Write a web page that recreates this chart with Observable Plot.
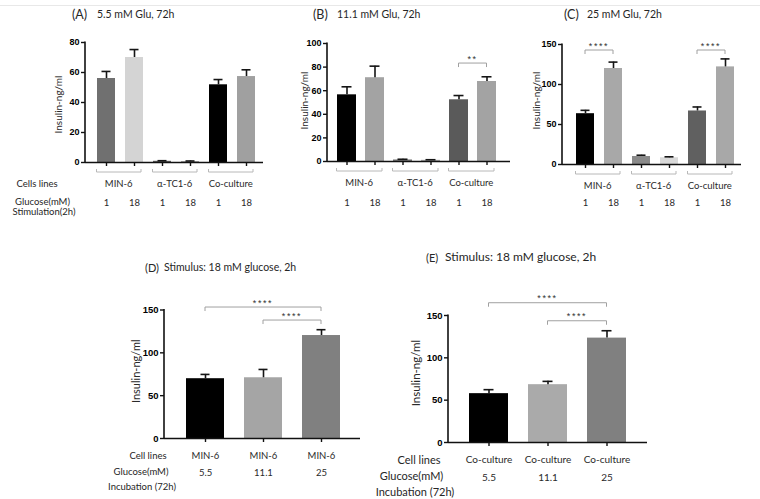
<!DOCTYPE html>
<html><head><meta charset="utf-8">
<script src="https://cdn.jsdelivr.net/npm/d3@7"></script>
<script src="https://cdn.jsdelivr.net/npm/@observablehq/plot@0.6"></script>
<style>
html,body{margin:0;padding:0;background:#fff;}
#root{position:relative;width:760px;height:499px;overflow:hidden;font-family:Lato,"Open Sans",sans-serif;color:#262626;}
#root svg{position:absolute;left:0;top:0;}
#root svg g[aria-label="y-axis tick label"], #root svg g[aria-label="y-axis tick label"] text{font-weight:700 !important;font-family:"Liberation Sans",Arial,sans-serif !important;}
.lbl{position:absolute;white-space:nowrap;line-height:1;transform:translate(-50%,-50%);}
.ttl{position:absolute;white-space:nowrap;line-height:1;transform:translate(0,-50%);}
.sep{position:absolute;left:0;top:5px;width:760px;height:1px;background:#e8e8e8;}
</style></head><body><div id="root"><div class="sep"></div></div>
<script>
// ---------------- data ----------------
const groupsABC = ["MIN-6", "α-TC1-6", "Co-culture"];
const stimGlucose = ["1", "18"];
const keysABC = groupsABC.flatMap(g => stimGlucose.map(s => g + "|" + s));

const valuesA = [56, 70, 0.8, 0.6, 51.8, 57.3];
const errorsA = [4.7, 5.3, 0.4, 0.4, 3.5, 4.5];
const valuesB = [56.5, 71, 1.3, 1.0, 52.3, 67.8];
const errorsB = [6.8, 9.8, 0.6, 0.5, 3.6, 4.0];
const valuesC = [63.5, 120, 10, 8.4, 66.9, 122];
const errorsC = [4.2, 8, 1.6, 1.2, 5, 10];

const incubGlucose = ["5.5", "11.1", "25"];
const cellLinesD = ["MIN-6", "MIN-6", "MIN-6"];
const valuesD = [69.8, 70.9, 120.2];
const errorsD = [5, 9.7, 6.8];
const cellLinesE = ["Co-culture", "Co-culture", "Co-culture"];
const valuesE = [57.7, 68.3, 123.3];
const errorsE = [4.7, 3.9, 8.7];

const ticksA = [0, 20, 40, 60, 80];
const ticksB = [0, 20, 40, 60, 80, 100];
const ticks150 = [0, 50, 100, 150];

const sigLabelB = "**";
const sigLabel = "****";

// ---------------- helpers ----------------
const W = 760, H = 499;
const root = document.getElementById("root");

const yAxisLine = (index, scales, values, dim) =>
  d3.create("svg:line")
    .attr("x1", dim.marginLeft).attr("x2", dim.marginLeft)
    .attr("y1", dim.marginTop - 0.5).attr("y2", dim.height - dim.marginBottom + 0.75)
    .attr("stroke", "#111").attr("stroke-width", 1.6).node();

function groupAxis(groups, keys, {offset, labelDy, fontSize}) {
  return (index, scales, values, dim) => {
    const x = scales.x, bw = x.bandwidth();
    const y0 = dim.height - dim.marginBottom;
    const g = d3.create("svg:g");
    groups.forEach((name, gi) => {
      const k1 = keys[gi * 2], k2 = keys[gi * 2 + 1];
      const x1 = x(k1) - 0.5, x2 = x(k2) + bw - 2;
      const yy = y0 + offset;
      g.append("path").attr("d", `M${x1},${yy - 3}V${yy}H${x2}V${yy - 3}`)
        .attr("fill", "none").attr("stroke", "#b8b8b8").attr("stroke-width", 1);
      g.append("text").attr("x", (x1 + x2) / 2).attr("y", y0 + labelDy).attr("dy", "0.35em")
        .attr("text-anchor", "middle").attr("font-family", "Lato").attr("font-size", fontSize)
        .attr("fill", "#2a2a2a").text(name);
    });
    return g.node();
  };
}

function sigMark(list, fontSize = 9) {
  return (index, scales) => {
    const x = scales.x, y = scales.y, bw = x.bandwidth();
    const g = d3.create("svg:g");
    for (const s of list) {
      const x1 = x(s.from) + bw / 2, x2 = x(s.to) + bw / 2, yy = y(s.y);
      g.append("path").attr("d", `M${x1},${yy + 4}V${yy}H${x2}V${yy + 4}`)
        .attr("fill", "none").attr("stroke", "#a0a0a0").attr("stroke-width", 1);
      g.append("text").attr("x", (x1 + x2) / 2).attr("y", yy - 1.5)
        .attr("text-anchor", "middle").attr("font-family", "Liberation Sans, Arial")
        .attr("font-size", fontSize).attr("letter-spacing", "1.6px").attr("fill", "#333").text(s.label);
    }
    return g.node();
  };
}

function panel(cfg) {
  const data = cfg.keys.map((key, i) => ({
    key, v: cfg.values[i], e: cfg.errors[i], fill: cfg.fills[i],
    r1: cfg.row1 ? cfg.row1[i] : "", r2: cfg.row2[i]
  }));
  const [left, right, top, bottom] = cfg.box;
  const textOpts = {fontFamily: "Lato", fill: "#2a2a2a", lineAnchor: "middle", textAnchor: "middle"};
  const marks = [
    Plot.barY(data, {x: "key", y: "v", fill: "fill"}),
    Plot.ruleX(data, {x: "key", y1: "v", y2: d => d.v + d.e, stroke: "#151515", strokeWidth: 1.6}),
    Plot.tickY(data, {x: "key", y: d => d.v + d.e, stroke: "#151515", strokeWidth: 1.6, insetLeft: cfg.cap, insetRight: cfg.cap}),
    Plot.ruleY([0], {stroke: "#111", strokeWidth: 1.6}),
    yAxisLine,
    Plot.axisY({ticks: cfg.ticks, tickSize: 4, tickPadding: 2, fontSize: cfg.tickFont, fontWeight: "bold",
      fontFamily: "Liberation Sans, Arial", label: null, strokeWidth: 1.4, stroke: "#111", fill: "#000"}),
    Plot.axisX({tickSize: 4, tickFormat: () => "", label: null, strokeWidth: 1.4, stroke: "#111"}),
    Plot.text(["Insulin-ng/ml"], {...textOpts, text: d => d, frameAnchor: "left", rotate: -90,
      dx: cfg.yTitle.dx, dy: cfg.yTitle.dy, fontSize: cfg.yTitle.size}),
    Plot.text(data, {...textOpts, x: "key", text: "r2", frameAnchor: "bottom", dy: cfg.r2dy, fontSize: cfg.rowFont})
  ];
  if (cfg.row1) marks.push(Plot.text(data, {...textOpts, x: "key", text: "r1", frameAnchor: "bottom", dy: cfg.r1dy, fontSize: cfg.rowFont}));
  if (cfg.groups) marks.push(groupAxis(cfg.groups, cfg.keys, {offset: 10, labelDy: 22, fontSize: cfg.rowFont}));
  if (cfg.sig) marks.push(sigMark(cfg.sig));
  const svg = Plot.plot({
    width: W, height: H,
    marginLeft: left, marginRight: W - right, marginTop: top, marginBottom: H - bottom,
    style: {background: "transparent", overflow: "visible", fontFamily: "Liberation Sans, Arial", fontSize: "8px"},
    x: {type: "band", domain: cfg.keys, paddingInner: cfg.band[0], paddingOuter: cfg.band[1], align: cfg.band[2]},
    y: {domain: [0, cfg.yMax]},
    color: {type: "identity"},
    marks
  });
  root.appendChild(svg);
}

// ---------------- panels ----------------
panel({
  keys: keysABC, values: valuesA, errors: errorsA,
  fills: ["#707070", "#d4d4d4", "#5e5e5e", "#9a9a9a", "#000000", "#a0a0a0"],
  ticks: ticksA, yMax: 80, box: [85, 263, 42, 162], band: [0.366, 0.3, 0.59], cap: 4.5,
  tickFont: 9, rowFont: 9.5, r2dy: 40, row2: keysABC.map(k => k.split("|")[1]), groups: groupsABC,
  yTitle: {dx: -27, dy: 2, size: 10}
});
panel({
  keys: keysABC, values: valuesB, errors: errorsB,
  fills: ["#000000", "#a3a3a3", "#777777", "#aaaaaa", "#5a5a5a", "#a3a3a3"],
  ticks: ticksB, yMax: 100, box: [327, 510, 43, 161], band: [0.31, 0.38, 0.43], cap: 4.5,
  tickFont: 9, rowFont: 9.5, r2dy: 41, row2: keysABC.map(k => k.split("|")[1]), groups: groupsABC,
  sig: [{from: "Co-culture|1", to: "Co-culture|18", y: 83, label: sigLabelB}],
  yTitle: {dx: -23, dy: -2, size: 10}
});
panel({
  keys: keysABC, values: valuesC, errors: errorsC,
  fills: ["#000000", "#a8a8a8", "#8a8a8a", "#d9d9d9", "#606060", "#a8a8a8"],
  ticks: ticks150, yMax: 150, box: [562, 741, 44, 164], band: [0.346, 0.336, 0.67], cap: 4.5,
  tickFont: 9, rowFont: 9.5, r2dy: 38, row2: keysABC.map(k => k.split("|")[1]), groups: groupsABC,
  sig: [{from: "MIN-6|1", to: "MIN-6|18", y: 142.5, label: sigLabel},
        {from: "Co-culture|1", to: "Co-culture|18", y: 142.5, label: sigLabel}],
  yTitle: {dx: -26, dy: -4, size: 10}
});
panel({
  keys: incubGlucose, values: valuesD, errors: errorsD,
  fills: ["#000000", "#a5a5a5", "#808080"],
  ticks: ticks150, yMax: 150, box: [164, 360, 309.5, 438], band: [0.345, 0.362, 0.52], cap: 14.5,
  tickFont: 9.5, rowFont: 9.5, r1dy: 17, r2dy: 34, row1: cellLinesD, row2: incubGlucose,
  sig: [{from: "5.5", to: "25", y: 152.9, label: sigLabel}, {from: "11.1", to: "25", y: 137.7, label: sigLabel}],
  yTitle: {dx: -28, dy: -3, size: 11}
});
panel({
  keys: incubGlucose, values: valuesE, errors: errorsE,
  fills: ["#000000", "#aaaaaa", "#808080"],
  ticks: ticks150, yMax: 150, box: [448, 647, 315, 442], band: [0.34, 0.335, 0.5], cap: 14.5,
  tickFont: 9.5, rowFont: 10, r1dy: 17, r2dy: 35, row1: cellLinesE, row2: incubGlucose,
  sig: [{from: "5.5", to: "25", y: 164.5, label: sigLabel}, {from: "11.1", to: "25", y: 143.2, label: sigLabel}],
  yTitle: {dx: -32, dy: -6, size: 11.5}
});

// ---------------- titles & row headers ----------------
const titles = [
  ["(A)", 72, 15, 12.5], ["5.5 mM Glu, 72h", 97, 14, 10.5],
  ["(B)", 313, 15, 12.5], ["11.1 mM Glu, 72h", 337, 14, 10.5],
  ["(C)", 564, 15, 12.5], ["25 mM Glu, 72h", 587, 14, 10.5],
  ["(D)", 145, 267, 11], ["Stimulus: 18 mM glucose, 2h", 164, 267, 10.5],
  ["(E)", 426, 257, 11], ["Stimulus: 18 mM glucose, 2h", 445, 257, 12]
];
const headers = [
  ["Cells lines", 37, 184, 9.5], ["Glucose(mM)", 42.5, 202, 9.5], ["Stimulation(2h)", 44, 212, 9.5],
  ["Cell lines", 148, 456, 9.5], ["Glucose(mM)", 141, 472, 9.5], ["Incubation (72h)", 142, 487, 9.5],
  ["Cell lines", 419, 459, 11], ["Glucose(mM)", 411.5, 475, 11], ["Incubation (72h)", 415, 491, 11]
];
for (const [t, x, y, s] of titles) {
  const d = document.createElement("div");
  d.className = "ttl"; d.textContent = t;
  d.style.left = x + "px"; d.style.top = y + "px"; d.style.fontSize = s + "px";
  root.appendChild(d);
}
for (const [t, x, y, s] of headers) {
  const d = document.createElement("div");
  d.className = "lbl"; d.textContent = t;
  d.style.left = x + "px"; d.style.top = y + "px"; d.style.fontSize = s + "px";
  root.appendChild(d);
}
</script></body></html>
